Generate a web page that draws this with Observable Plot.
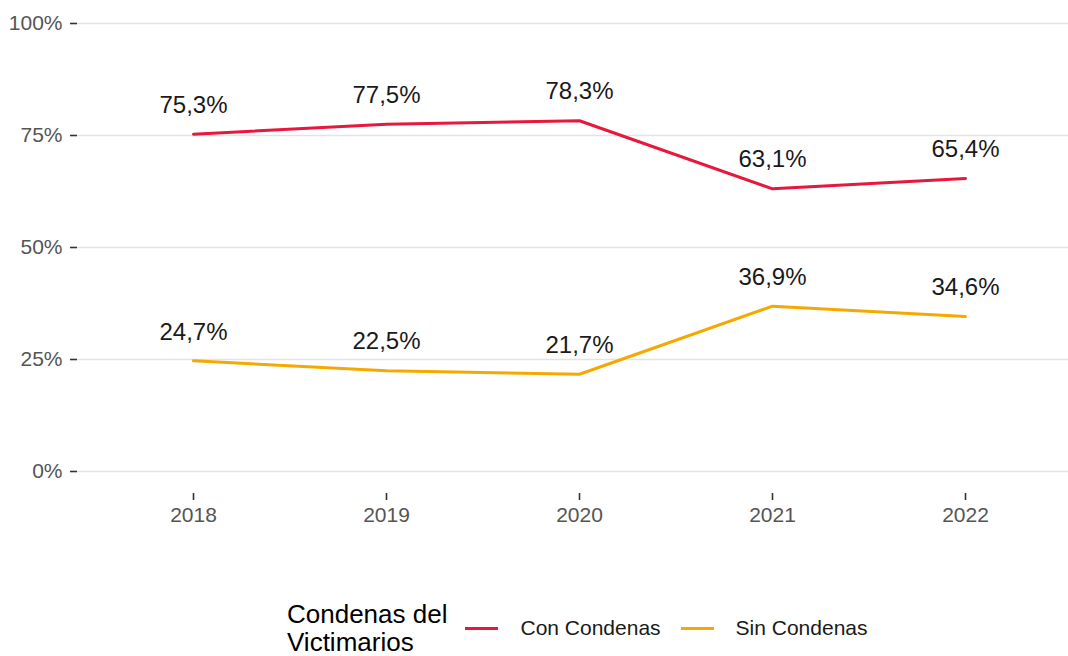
<!DOCTYPE html>
<html>
<head>
<meta charset="utf-8">
<script src="https://cdn.jsdelivr.net/npm/d3@7"></script>
<script src="https://cdn.jsdelivr.net/npm/@observablehq/plot@0.6"></script>
<style>
  body { margin: 0; background: #fff; font-family: "Liberation Sans", Arial, sans-serif; }
  #wrap { position: relative; width: 1068px; height: 656px; }
  #chart { position: absolute; left: 0; top: 0; }
  #legend { position: absolute; left: 287px; top: 600px; display: flex; align-items: center; }
  #legend .title { font-size: 26px; line-height: 28px; color: #000; margin-right: 18px; }
  #legend .item { display: flex; align-items: center; font-size: 21px; color: #1a1a1a; margin-right: 20px; }
  #legend .sw { width: 33px; height: 3px; margin-right: 22px; }
</style>
</head>
<body>
<div id="wrap">
  <div id="chart"></div>
  <div id="legend"></div>
</div>
<script>
const years = [2018, 2019, 2020, 2021, 2022];
const series = ["Con Condenas", "Sin Condenas"];
const conCondenas = [75.3, 77.5, 78.3, 63.1, 65.4];
const sinCondenas = [24.7, 22.5, 21.7, 36.9, 34.6];
const colors = ["#E8173E", "#F5A900"];
const yTicks = [0, 25, 50, 75, 100];
const legendTitle = ["Condenas del", "Victimarios"];

const data = [];
years.forEach((yr, i) => {
  data.push({year: yr, serie: series[0], value: conCondenas[i]});
  data.push({year: yr, serie: series[1], value: sinCondenas[i]});
});

const fmt = v => v.toFixed(1).replace(".", ",") + "%";

const plot = Plot.plot({
  width: 1068,
  height: 560,
  marginLeft: 77,
  marginRight: 0,
  marginTop: 1,
  marginBottom: 67,
  style: {fontFamily: "Liberation Sans, Arial, sans-serif", background: "#fff"},
  x: {type: "point", domain: years, range: [192, 966], padding: 0},
  y: {domain: [0, 100], range: [471, 23]},
  color: {domain: series, range: colors},
  marks: [
    Plot.ruleY(yTicks, {stroke: "#e3e3e3", strokeWidth: 1.7}),
    Plot.axisY({ticks: yTicks, tickFormat: d => d + "%", tickSize: 7, tickPadding: 8, fontSize: 21, color: "#555", stroke: "#333", strokeWidth: 1.6, label: null}),
    Plot.axisX({ticks: years, tickFormat: d => String(d), tickSize: 7, tickPadding: 7, fontSize: 21, color: "#555", stroke: "#333", strokeWidth: 1.6, label: null}),
    Plot.line(data, {x: "year", y: "value", z: "serie", stroke: "serie", strokeWidth: 3}),
    Plot.text(data, {x: "year", y: "value", text: d => fmt(d.value), dy: -29, fontSize: 24, fill: "#1a1a1a"})
  ]
});
document.getElementById("chart").appendChild(plot);

const legend = document.getElementById("legend");
const t = document.createElement("div");
t.className = "title";
t.innerHTML = legendTitle.join("<br>");
legend.appendChild(t);
series.forEach((s, i) => {
  const it = document.createElement("div");
  it.className = "item";
  const sw = document.createElement("div");
  sw.className = "sw";
  sw.style.background = colors[i];
  it.appendChild(sw);
  const lab = document.createElement("span");
  lab.textContent = s;
  it.appendChild(lab);
  legend.appendChild(it);
});
</script>
</body>
</html>
